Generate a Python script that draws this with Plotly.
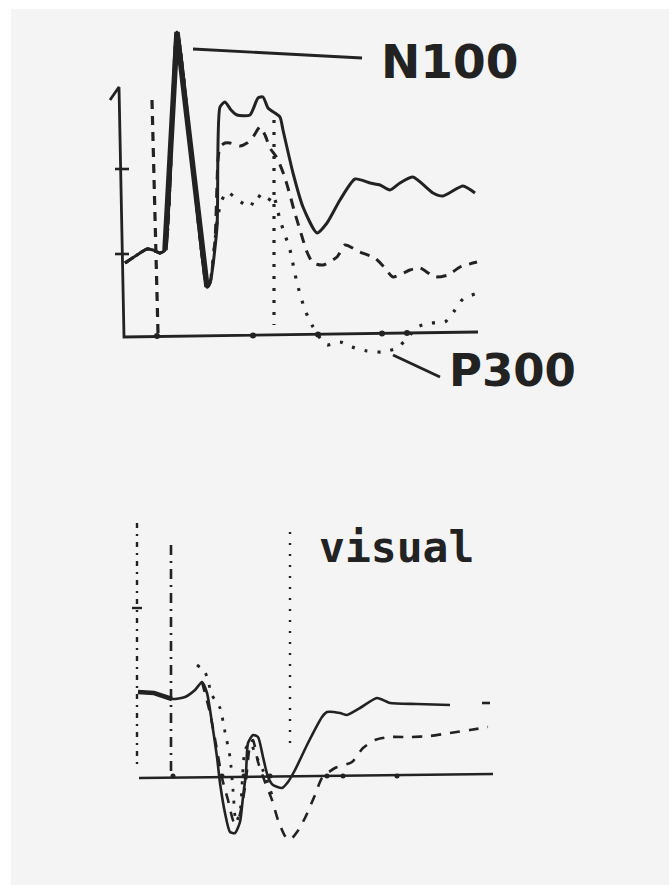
import plotly.graph_objects as go

# ---------------- data (time in ms, amplitude in µV) -------------
# Top panel (auditory): N100 / P300
top_t_solid = [2, 26, 46, 58, 72, 82, 106, 166, 172, 186, 192, 202, 214, 226, 252, 268, 278, 288,
               302, 312, 318, 338, 358, 386, 406, 432, 462, 492, 512, 532, 552, 578, 618, 638, 678, 702]
top_v_solid = [7.4, 8.2, 8.8, 8.7, 8.4, 8.7, 30.5, 5.0, 5.4, 11.0, 23.0, 23.5, 22.7, 22.2, 22.2, 23.9,
               24.0, 22.9, 22.4, 22.0, 20.7, 16.4, 13.0, 10.4, 11.4, 13.7, 15.8, 15.4, 15.2, 14.7, 15.4,
               16.0, 14.4, 14.1, 15.1, 14.4]

top_t_dash = [2, 26, 46, 58, 72, 82, 106, 166, 172, 182, 188, 192, 202, 212, 232, 246, 258, 272, 282,
              292, 306, 320, 332, 340, 352, 366, 378, 398, 426, 442, 472, 502, 522, 538, 572, 592, 622,
              648, 672, 706]
top_v_dash = [7.4, 8.2, 8.8, 8.7, 8.4, 8.7, 30.5, 5.0, 5.4, 9.7, 17.7, 19.0, 19.4, 19.4, 19.1, 19.4,
              20.0, 21.0, 20.2, 18.9, 17.9, 16.2, 14.2, 12.7, 10.7, 8.5, 7.4, 7.2, 8.0, 9.2, 8.5, 7.9,
              6.9, 6.0, 6.7, 6.9, 6.0, 6.2, 7.0, 7.5]

top_t_dot = [2, 26, 46, 58, 72, 82, 106, 166, 172, 178, 188, 196, 206, 228, 252, 266, 286, 298, 312,
             322, 332, 346, 362, 376, 392, 406, 432, 456, 486, 516, 546, 572, 586, 612, 642, 662, 678, 702]
top_v_dot = [7.4, 8.2, 8.8, 8.7, 8.4, 8.7, 30.5, 5.0, 5.4, 7.7, 12.2, 13.7, 14.5, 13.7, 13.0, 14.2,
             13.5, 14.2, 11.7, 10.2, 8.7, 5.4, 2.7, 1.2, -0.1, -0.8, -0.5, -1.0, -1.4, -1.5, -1.1, 0.2,
             1.0, 1.4, 1.5, 2.7, 3.8, 4.3]

top_axis_t = [-28, -10, 0, 708]          # "1"-shaped ordinate plus abscissa
top_axis_v = [23.7, 25.0, 0.0, 0.5]
top_ytick_v = [8.3, 16.8]
top_xtick_t = [66, 258, 388, 516, 566]
top_xtick_v = [0.1, 0.15, 0.25, 0.35, 0.4]
top_onset_t = [56, 68]
top_onset_v = [23.7, 0.4]
top_p3_marker_t = [300, 300]
top_p3_marker_v = [21.7, 1.2]
n100_leader_t = [138, 476]
n100_leader_v = [28.8, 27.9]
p300_leader_t = [538, 632]
p300_leader_v = [-1.8, -4.0]

# Bottom panel (visual)
bot_t_solid = [2, 34, 70, 96, 116, 130, 140, 150, 160, 166, 176, 186, 196, 206, 212, 218, 222, 232,
               242, 252, 262, 272, 290, 302, 316, 342, 370, 380, 406, 420, 446, 480, 506, 560, 626]
bot_v_solid = [8.4, 8.3, 7.7, 7.9, 8.6, 9.4, 8.3, 5.3, 1.9, -0.7, -3.7, -5.6, -5.7, -4.6, -2.1, 0.3,
               3.3, 4.1, 3.9, 1.9, -0.1, -0.9, -1.2, -0.6, 0.6, 3.3, 5.9, 6.4, 6.3, 6.1, 6.8, 7.8, 7.3,
               7.2, 7.1]
bot_tail_t = [690, 706]
bot_tail_v = [7.3, 7.3]

bot_t_dash = [130, 146, 160, 170, 182, 194, 202, 210, 218, 226, 232, 242, 256, 270, 282, 296, 306,
              320, 336, 356, 370, 396, 430, 452, 476, 506, 546, 586, 626, 666, 702]
bot_v_dash = [9.4, 6.3, 2.6, -0.2, -2.4, -4.6, -4.4, -2.9, -0.4, 3.1, 3.6, 1.4, -0.6, -2.4, -4.4,
              -6.0, -6.4, -5.6, -4.2, -1.9, -0.2, 0.8, 1.4, 2.8, 3.6, 3.9, 3.9, 4.0, 4.3, 4.6, 4.9]

bot_t_dot = [120, 136, 150, 166, 176, 186, 192, 198, 206, 216, 226, 242, 256, 270]
bot_v_dot = [11.1, 10.4, 8.1, 6.8, 4.4, 1.9, -1.4, -4.6, -3.6, 2.6, 3.3, 1.6, 0.1, -1.9]

bot_axis_t = [4, 712]
bot_axis_v = [-0.2, 0.2]
bot_xtick_t = [72, 170, 214, 266, 380, 412, 520]
bot_left_t = [0, 0]
bot_left_v = [25.3, 0.9]
bot_onset_t = [68, 68]
bot_onset_v = [23.1, -0.2]
bot_peak_t = [306, 306]
bot_peak_v = [24.4, 3.1]
bot_ytick_v = [16.8]

labels = {"n100": "N100", "p300": "P300", "visual": "visual"}

# ---------------- figure ----------------
W, H = 669, 885
INK = "#222222"

def px_dom_x(a, b):
    return [a / W, b / W]

def px_dom_y(top, bottom):
    return [1 - bottom / H, 1 - top / H]

fig = go.Figure()

def line(t, v, ax, width=2.6, dash="solid", smooth=False):
    ln = dict(color=INK, width=width, dash=dash)
    if smooth:
        ln.update(shape="spline", smoothing=0.6)
    fig.add_trace(go.Scatter(x=t, y=v, mode="lines", xaxis=ax[0], yaxis=ax[1], line=ln,
                             hoverinfo="skip", showlegend=False))

TOP = ("x", "y")
BOT = ("x2", "y2")

# top panel
line(top_axis_t, top_axis_v, TOP, width=2.8)
for yv in top_ytick_v:
    line([-18, 10], [yv, yv], TOP, width=2.6)
fig.add_trace(go.Scatter(x=top_xtick_t, y=top_xtick_v, mode="markers",
                         xaxis="x", yaxis="y", marker=dict(color=INK, size=6, symbol="circle"),
                         hoverinfo="skip", showlegend=False))
line(top_onset_t, top_onset_v, TOP, width=3.2, dash="9px,7px")
line(top_p3_marker_t, top_p3_marker_v, TOP, width=3.2, dash="3px,9px")
line(top_t_dot, top_v_dot, TOP, width=3.2, dash="3px,10px", smooth=True)
line(top_t_dash, top_v_dash, TOP, width=3.0, dash="10px,8px", smooth=True)
line(top_t_solid, top_v_solid, TOP, width=3.0, smooth=True)
line(top_t_solid[5:8], top_v_solid[5:8], TOP, width=5.5)
line(n100_leader_t, n100_leader_v, TOP, width=2.8)
line(p300_leader_t, p300_leader_v, TOP, width=2.8)

# bottom panel
line(bot_axis_t, bot_axis_v, BOT, width=2.6)
fig.add_trace(go.Scatter(x=bot_xtick_t, y=[0.0] * len(bot_xtick_t), mode="markers",
                         xaxis="x2", yaxis="y2", marker=dict(color=INK, size=5),
                         hoverinfo="skip", showlegend=False))
line(bot_left_t, bot_left_v, BOT, width=2.4, dash="5px,6px,2px,6px")
line(bot_onset_t, bot_onset_v, BOT, width=2.6, dash="10px,6px,2px,6px")
line(bot_peak_t, bot_peak_v, BOT, width=2.4, dash="2px,9px")
for yv in bot_ytick_v:
    line([-10, 10], [yv, yv], BOT, width=2.4)
line(bot_t_dot, bot_v_dot, BOT, width=2.8, dash="3px,9px", smooth=True)
line(bot_t_dash, bot_v_dash, BOT, width=2.6, dash="10px,9px", smooth=True)
line(bot_t_solid, bot_v_solid, BOT, width=2.6, smooth=True)
line(bot_tail_t, bot_tail_v, BOT, width=2.6)
line(bot_t_solid[:3], bot_v_solid[:3], BOT, width=4.5)

ann_font = dict(family="DejaVu Sans", size=47, color=INK, weight="bold")
fig.add_annotation(x=510, y=27.6, xref="x", yref="y", text=labels["n100"], showarrow=False,
                   xanchor="left", yanchor="middle", font=ann_font)
fig.add_annotation(x=646, y=-3.3, xref="x", yref="y", text=labels["p300"], showarrow=False,
                   xanchor="left", yanchor="middle", font=dict(family="DejaVu Sans", size=45,
                                                               color=INK, weight="bold"))
fig.add_annotation(x=360, y=22.9, xref="x2", yref="y2", text=labels["visual"], showarrow=False,
                   xanchor="left", yanchor="middle",
                   font=dict(family="DejaVu Sans Mono", size=43, color=INK, weight="bold"))

hidden = dict(visible=False, fixedrange=True)
fig.update_layout(
    width=W, height=H, margin=dict(l=0, r=0, t=0, b=0),
    paper_bgcolor="#ffffff", plot_bgcolor="rgba(0,0,0,0)",
    xaxis=dict(domain=px_dom_x(90, 660), range=[(90 - 124) * 2, (660 - 124) * 2], **hidden),
    yaxis=dict(domain=px_dom_y(10, 420), range=[(337 - 420) / 10, (337 - 10) / 10], **hidden),
    xaxis2=dict(domain=px_dom_x(90, 660), range=[(90 - 137) * 2, (660 - 137) * 2], **hidden),
    yaxis2=dict(domain=px_dom_y(480, 870), range=[(776 - 870) / 10, (776 - 480) / 10], **hidden),
    shapes=[dict(type="rect", xref="paper", yref="paper", x0=11 / W, x1=1, y0=0, y1=1 - 9 / H,
                 fillcolor="#f4f4f4", line=dict(width=0), layer="below")],
)

fig.write_html("out.html")
